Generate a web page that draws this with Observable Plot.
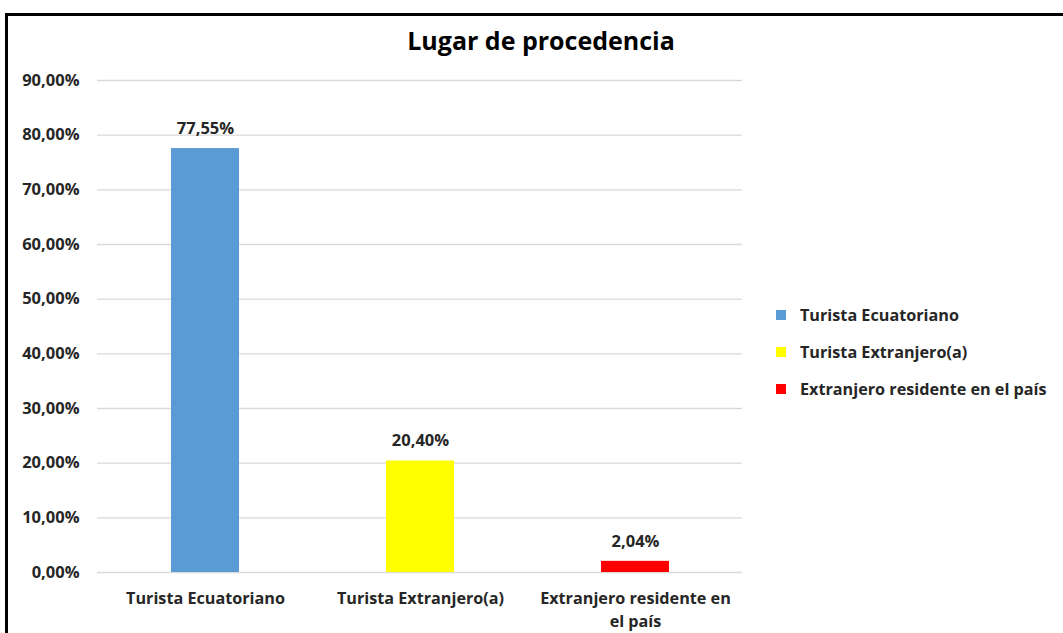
<!DOCTYPE html>
<html>
<head>
<meta charset="utf-8">
<script src="https://cdn.jsdelivr.net/npm/d3@7"></script>
<script src="https://cdn.jsdelivr.net/npm/@observablehq/plot@0.6"></script>
<style>
  html, body { margin: 0; padding: 0; background: #fff; }
  #wrap { position: relative; width: 1063px; height: 633px; overflow: hidden; background: #fff; font-family: "Open Sans", sans-serif; color: #262626; }
  #chart { position: absolute; left: 0; top: 0; }
  #frame { position: absolute; left: 5px; top: 13px; width: 1200px; height: 800px; border-left: 3px solid #000; border-top: 3px solid #000; }
  #title { position: absolute; left: 241px; width: 600px; top: 24px; line-height: 32px; text-align: center; font-size: 25px; font-weight: bold; color: #000; }
  .leg { position: absolute; left: 776px; height: 22px; line-height: 22px; font-size: 16.2px; font-weight: bold; white-space: nowrap; }
  .leg span.sw { position: absolute; left: 0; top: 6px; width: 10px; height: 10px; }
  .leg span.tx { position: absolute; left: 24px; top: 0; }
</style>
</head>
<body>
<div id="wrap">
  <div id="chart"></div>
  <div id="title">Lugar de procedencia</div>
  <div id="legend"></div>
  <div id="frame"></div>
</div>
<script>
const categories = ["Turista Ecuatoriano", "Turista Extranjero(a)", "Extranjero residente en el país"];
const values = [0.7755, 0.2040, 0.0204];
const colors = ["#5B9BD5", "#FFFF00", "#FF0000"];
const tickLabels = ["Turista Ecuatoriano", "Turista Extranjero(a)", "Extranjero residente en\nel país"];
const yTicks = [0, 0.1, 0.2, 0.3, 0.4, 0.5, 0.6, 0.7, 0.8, 0.9];

const fmt = v => (v * 100).toFixed(2).replace(".", ",") + "%";
const data = categories.map((c, i) => ({cat: c, value: values[i], color: colors[i]}));

const chart = Plot.plot({
  width: 760,
  height: 633,
  marginLeft: 97,
  marginRight: 18,
  marginTop: 80,
  marginBottom: 61,
  style: {fontFamily: "Open Sans, sans-serif", fontSize: "16.2px", fontWeight: "bold", color: "#262626", background: "transparent", overflow: "visible"},
  x: {domain: categories, paddingInner: 0.684, paddingOuter: 0.342, label: null},
  y: {domain: [0, 0.9], label: null},
  marks: [
    Plot.gridY(yTicks, {stroke: "#d9d9d9", strokeOpacity: 1, strokeWidth: 1.3}),
    Plot.barY(data, {x: "cat", y: "value", fill: "color"}),
    Plot.text(data, {x: "cat", y: "value", text: d => fmt(d.value), dy: -20, fill: "#262626", fontWeight: "bold", fontSize: 16.5}),
    Plot.axisY({ticks: yTicks, tickSize: 0, tickPadding: 18, tickFormat: fmt, label: null, fontSize: 16.5}),
    Plot.axisX({tickSize: 0, tickPadding: 15, tickFormat: d => tickLabels[categories.indexOf(d)], lineHeight: 1.42, label: null})
  ]
});
document.getElementById("chart").appendChild(chart);

const legY = [315, 352, 389];
const leg = document.getElementById("legend");
categories.forEach((c, i) => {
  const d = document.createElement("div");
  d.className = "leg";
  d.style.top = (legY[i] - 11) + "px";
  d.innerHTML = `<span class="sw" style="background:${colors[i]}"></span><span class="tx"></span>`;
  d.querySelector(".tx").textContent = c;
  leg.appendChild(d);
});
</script>
</body>
</html>
